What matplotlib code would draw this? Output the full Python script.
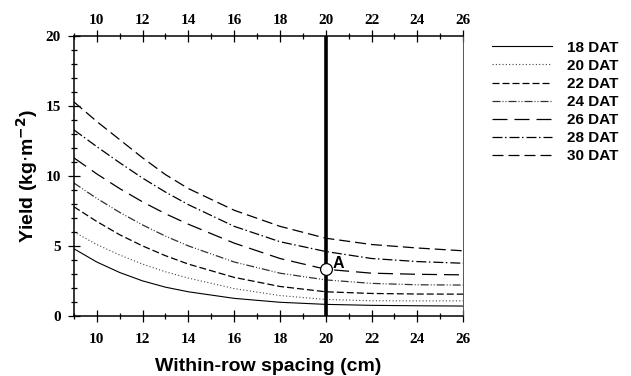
import matplotlib
matplotlib.use("Agg")
import matplotlib.pyplot as plt
import matplotlib.transforms as mtransforms
import numpy as np

# spacing (cm) and yield curves
spacing = [9, 10, 11, 12, 13, 14, 16, 18, 20, 22, 24, 26]
dat_labels = ["18 DAT", "20 DAT", "22 DAT", "24 DAT", "26 DAT", "28 DAT", "30 DAT"]
yield_18 = [4.8, 3.85, 3.1, 2.5, 2.05, 1.72, 1.25, 0.97, 0.82, 0.75, 0.72, 0.70]
yield_20 = [6.0, 5.1, 4.35, 3.7, 3.15, 2.7, 1.95, 1.45, 1.17, 1.08, 1.07, 1.07]
yield_22 = [7.8, 6.75, 5.8, 5.0, 4.3, 3.7, 2.75, 2.1, 1.72, 1.6, 1.56, 1.55]
yield_24 = [9.5, 8.4, 7.4, 6.5, 5.7, 5.0, 3.85, 3.05, 2.57, 2.32, 2.22, 2.2]
yield_26 = [11.3, 10.15, 9.1, 8.15, 7.3, 6.55, 5.2, 4.1, 3.33, 3.05, 2.97, 2.93]
yield_28 = [13.3, 12.1, 10.95, 9.85, 8.85, 7.95, 6.4, 5.3, 4.6, 4.1, 3.88, 3.76]
yield_30 = [15.3, 13.9, 12.6, 11.3, 10.1, 9.1, 7.55, 6.4, 5.55, 5.1, 4.85, 4.65]

point_a = (20, 3.33)
ref_spacing = 20

series = [yield_18, yield_20, yield_22, yield_24, yield_26, yield_28, yield_30]
styles = [
    dict(ls="-", color="black", lw=0.8),
    dict(ls=(0, (1, 2)), color="#444444", lw=0.8),
    dict(ls=(0, (5.6, 2.4)), color="black", lw=0.9),
    dict(ls=(0, (6.4, 1.6, 0.8, 1.6, 0.8, 1.6)), color="#333333", lw=0.9),
    dict(ls=(0, (12, 5.6)), color="black", lw=0.9),
    dict(ls=(0, (8, 2, 1.2, 2.4)), color="black", lw=0.9),
    dict(ls=(0, (8.8, 4)), color="black", lw=0.9),
]

serif = ["Liberation Serif", "DejaVu Serif"]
sans = ["Liberation Sans", "DejaVu Sans"]

fig = plt.figure(figsize=(6.31, 3.76), dpi=100)
ax = fig.add_axes([0.117, 0.160, 0.617, 0.744])

for ys, lab, st in zip(series, dat_labels, styles):
    ax.plot(spacing, ys, label=lab, **st)

ax.axvline(ref_spacing, color="black", lw=2.6, zorder=3)
ax.plot(*point_a, "o", ms=8.5, mfc="white", mec="black", mew=0.9, zorder=4)
ax.text(point_a[0] + 0.28, point_a[1] + 0.12, "A", fontsize=11.5, fontweight="bold",
        family=sans, va="baseline", zorder=5)

ax.set_xlim(9, 26)
ax.set_ylim(0, 20)
ax.set_xticks(np.arange(10, 27, 2))
ax.set_xticks(np.arange(9, 27, 1), minor=True)
ax.set_yticks(np.arange(0, 21, 5))
ax.set_yticks(np.arange(0, 21, 1), minor=True)

ax.tick_params(which="both", direction="inout", top=True, labeltop=True,
               right=False, width=0.9)
ax.tick_params(which="major", length=8, labelsize=11)
ax.tick_params(which="minor", length=5)
ax.tick_params(axis="x", which="major", pad=8)
ax.tick_params(axis="y", which="major", pad=5.5)

# top labels sit closer to the axis than the bottom ones
shift = mtransforms.ScaledTranslation(0, -5.5 / 72, fig.dpi_scale_trans)
for t in ax.xaxis.get_major_ticks():
    t.label2.set_transform(t.label2.get_transform() + shift)

for lab in ax.get_xticklabels() + ax.get_yticklabels():
    lab.set_family(serif)
    lab.set_fontweight("bold")
for t in ax.xaxis.get_major_ticks():
    t.label2.set_family(serif)
    t.label2.set_fontweight("bold")

for side in ["left", "bottom", "top"]:
    ax.spines[side].set_linewidth(1.1)
ax.spines["right"].set_linewidth(0.7)
ax.spines["right"].set_color("#555555")

ax.set_xlabel("Within-row spacing (cm)", fontsize=14, fontweight="bold",
              family=sans, labelpad=9)
ax.set_ylabel(r"Yield (kg$\cdot$m$^{\mathbf{-2}}$)", fontsize=14, fontweight="bold",
              family=sans, labelpad=4)

leg = ax.legend(loc="upper left", bbox_to_anchor=(1.04, 1.033), frameon=False,
                handlelength=3.9, labelspacing=0.27, handletextpad=1.0,
                prop=dict(family=sans, weight="bold", size=11))

fig.savefig("out.png", dpi=100)
